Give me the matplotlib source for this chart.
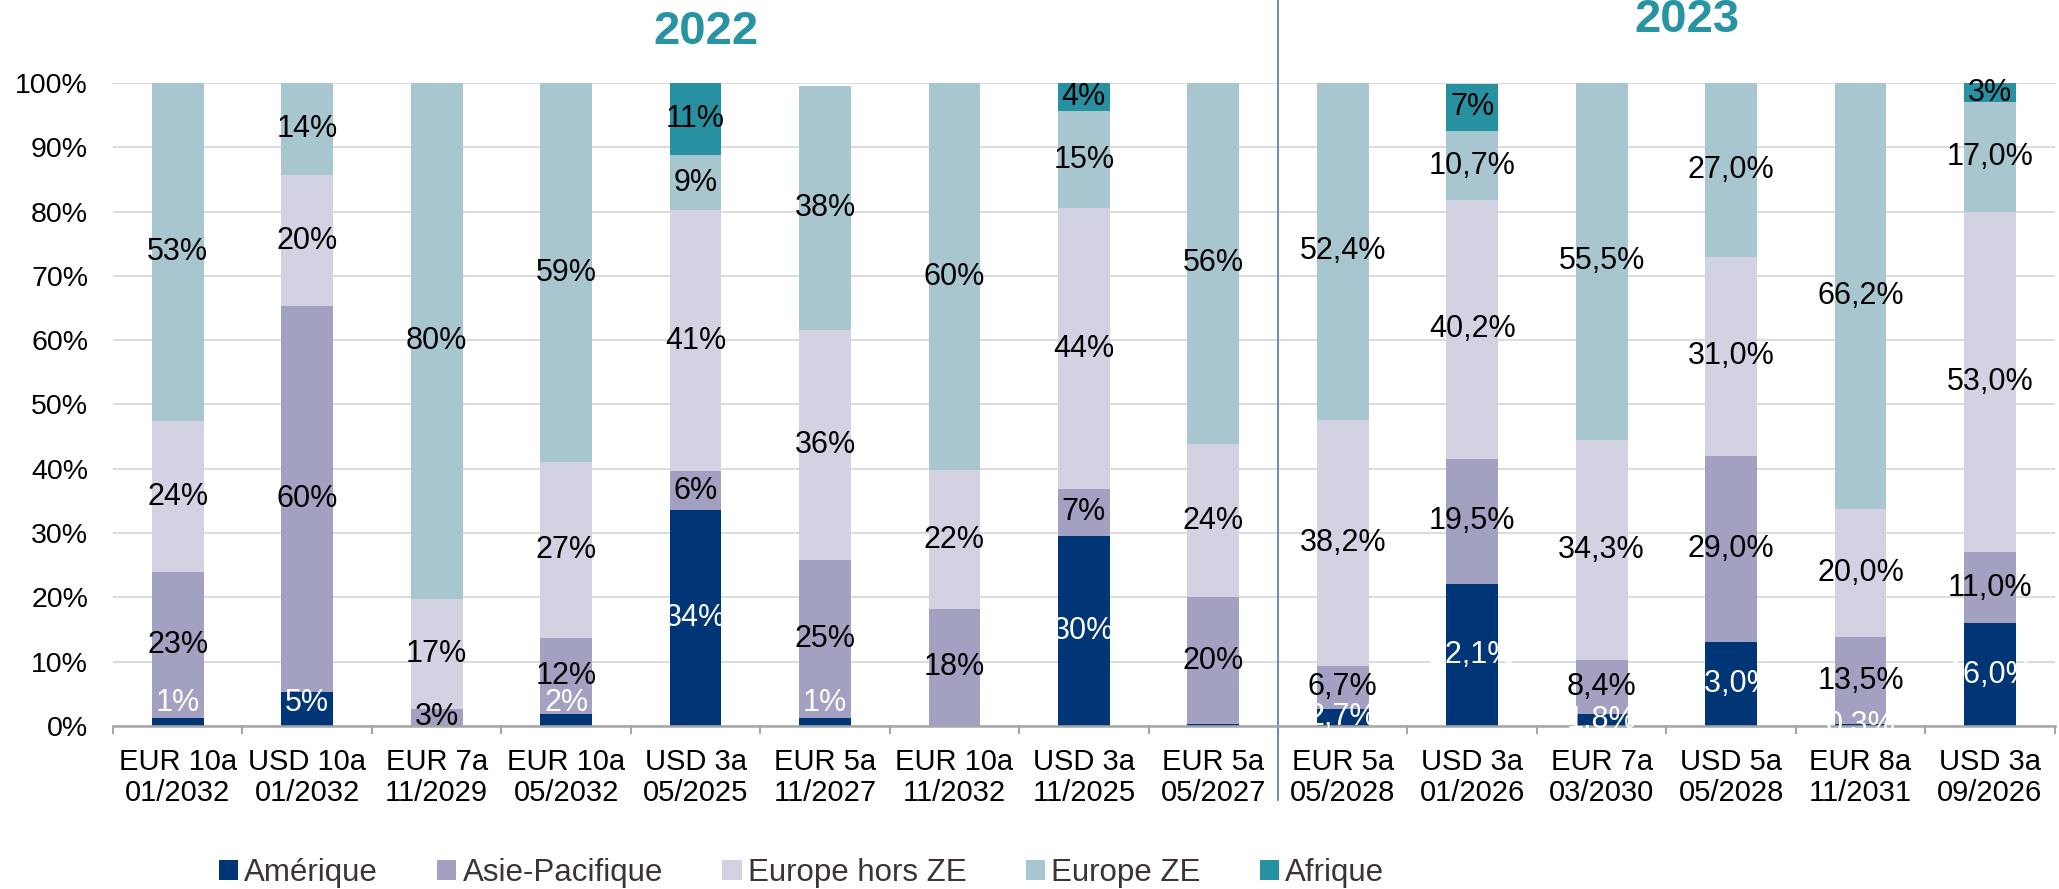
import matplotlib
matplotlib.use('Agg')
import matplotlib.pyplot as plt
from matplotlib.transforms import blended_transform_factory

plt.rcParams['font.family'] = ['Liberation Sans', 'DejaVu Sans']

# Bond issues, one bar each (two-line tick labels)
issues = ['EUR 10a\n01/2032', 'USD 10a\n01/2032', 'EUR 7a\n11/2029', 'EUR 10a\n05/2032',
          'USD 3a\n05/2025', 'EUR 5a\n11/2027', 'EUR 10a\n11/2032', 'USD 3a\n11/2025',
          'EUR 5a\n05/2027',
          'EUR 5a\n05/2028', 'USD 3a\n01/2026', 'EUR 7a\n03/2030', 'USD 5a\n05/2028',
          'EUR 8a\n11/2031', 'USD 3a\n09/2026']
years = ['2022'] * 9 + ['2023'] * 6

# Share of the allocation by investor region (%)
amerique = [1.3, 5.3, 0, 1.8, 33.6, 1.2, 0, 29.6, 0.3, 2.7, 22.1, 1.8, 13.0, 0.3, 16.0]
asie_pacifique = [22.6, 60.0, 2.7, 11.9, 6.0, 24.6, 18.2, 7.3, 19.7, 6.7, 19.5, 8.4, 29.0, 13.5, 11.0]
europe_hors_ze = [23.5, 20.4, 17.1, 27.3, 40.6, 35.8, 21.6, 43.6, 23.9, 38.2, 40.2, 34.3, 31.0, 20.0, 53.0]
europe_ze = [52.6, 14.3, 80.2, 59.0, 8.6, 38.0, 60.2, 15.2, 56.1, 52.4, 10.7, 55.5, 27.0, 66.2, 17.0]
afrique = [0, 0, 0, 0, 11.2, 0, 0, 4.3, 0, 0, 7.4, 0, 0, 0, 3.0]

series = [
    ('Amérique', amerique, '#003676', 'white'),
    ('Asie-Pacifique', asie_pacifique, '#A3A1C1', 'black'),
    ('Europe hors ZE', europe_hors_ze, '#D3D2E2', 'black'),
    ('Europe ZE', europe_ze, '#A8C6D0', 'black'),
    ('Afrique', afrique, '#2790A1', 'black'),
]

TITLE_COLOR = '#2893A3'
# where the year headings sit (x in bar units, y in axes fraction)
title_pos = {'2022': (4.08, 1.080), '2023': (11.66, 1.098)}


def fmt_label(value, year, name):
    # 2022 in whole percents, 2023 with one decimal (french comma)
    if year == '2022' or name == 'Afrique':
        return '{:.0f}%'.format(value)
    return '{:.1f}%'.format(value).replace('.', ',')


def main():
    fig = plt.figure(figsize=(20.59, 8.89), dpi=100)
    ax = fig.add_axes([0.0549, 0.1834, 0.943, 0.7232])

    x = list(range(len(issues)))
    bottoms = [0.0] * len(issues)
    for name, values, color, text_color in series:
        ax.bar(x, values, width=0.4, bottom=bottoms, color=color, label=name, zorder=2)
        for i, v in enumerate(values):
            label = fmt_label(v, years[i], name)
            if v <= 0 or label in ('0%', '0,0%'):
                continue
            y = bottoms[i] + v / 2
            if name == 'Amérique' and years[i] == '2022':
                y = max(y, 3.6)
            ax.text(i, y, label, ha='center', va='center', fontsize=22,
                    color=text_color, zorder=3)
        bottoms = [b + v for b, v in zip(bottoms, values)]

    # axes styling
    ax.set_xlim(-0.5, len(issues) - 0.5)
    ax.set_ylim(0, 100)
    ax.set_yticks(range(0, 101, 10))
    ax.set_yticklabels(['{}%'.format(v) for v in range(0, 101, 10)])
    ax.set_xticks(x)
    ax.set_xticklabels(issues, linespacing=1.15)
    ax.set_xticks([i - 0.5 for i in range(len(issues) + 1)], minor=True)
    ax.tick_params(axis='y', length=0, labelsize=20.5, pad=18)
    ax.tick_params(axis='x', which='major', length=0, labelsize=21, pad=16)
    ax.tick_params(axis='x', which='minor', length=6, width=1.5, color='#A6A6A6')
    ax.grid(axis='y', color='#D9D9D9', linewidth=1.3)
    ax.set_axisbelow(True)
    for side in ['left', 'right', 'top']:
        ax.spines[side].set_visible(False)
    ax.spines['bottom'].set_color('#A6A6A6')
    ax.spines['bottom'].set_linewidth(1.8)

    # separator between the two years and the year titles
    trans = blended_transform_factory(ax.transData, ax.transAxes)
    split = years.count('2022') - 0.5
    ax.plot([split, split], [-0.115, 1.13], transform=trans, color='#5B85C0',
            linewidth=1.3, clip_on=False)
    for yr, (tx, ty) in title_pos.items():
        ax.text(tx, ty, yr, transform=trans, ha='center', va='center',
                fontsize=34, fontweight='bold', color=TITLE_COLOR)

    leg = fig.legend(loc='center', bbox_to_anchor=(0.3893, 0.0185), ncol=5, frameon=False,
                     fontsize=22.5, handlelength=0.61, handleheight=0.61,
                     handletextpad=0.2, columnspacing=1.9)
    for t in leg.get_texts():
        t.set_color('#3D3333')

    fig.savefig('out.png', dpi=100)


if __name__ == '__main__':
    main()
